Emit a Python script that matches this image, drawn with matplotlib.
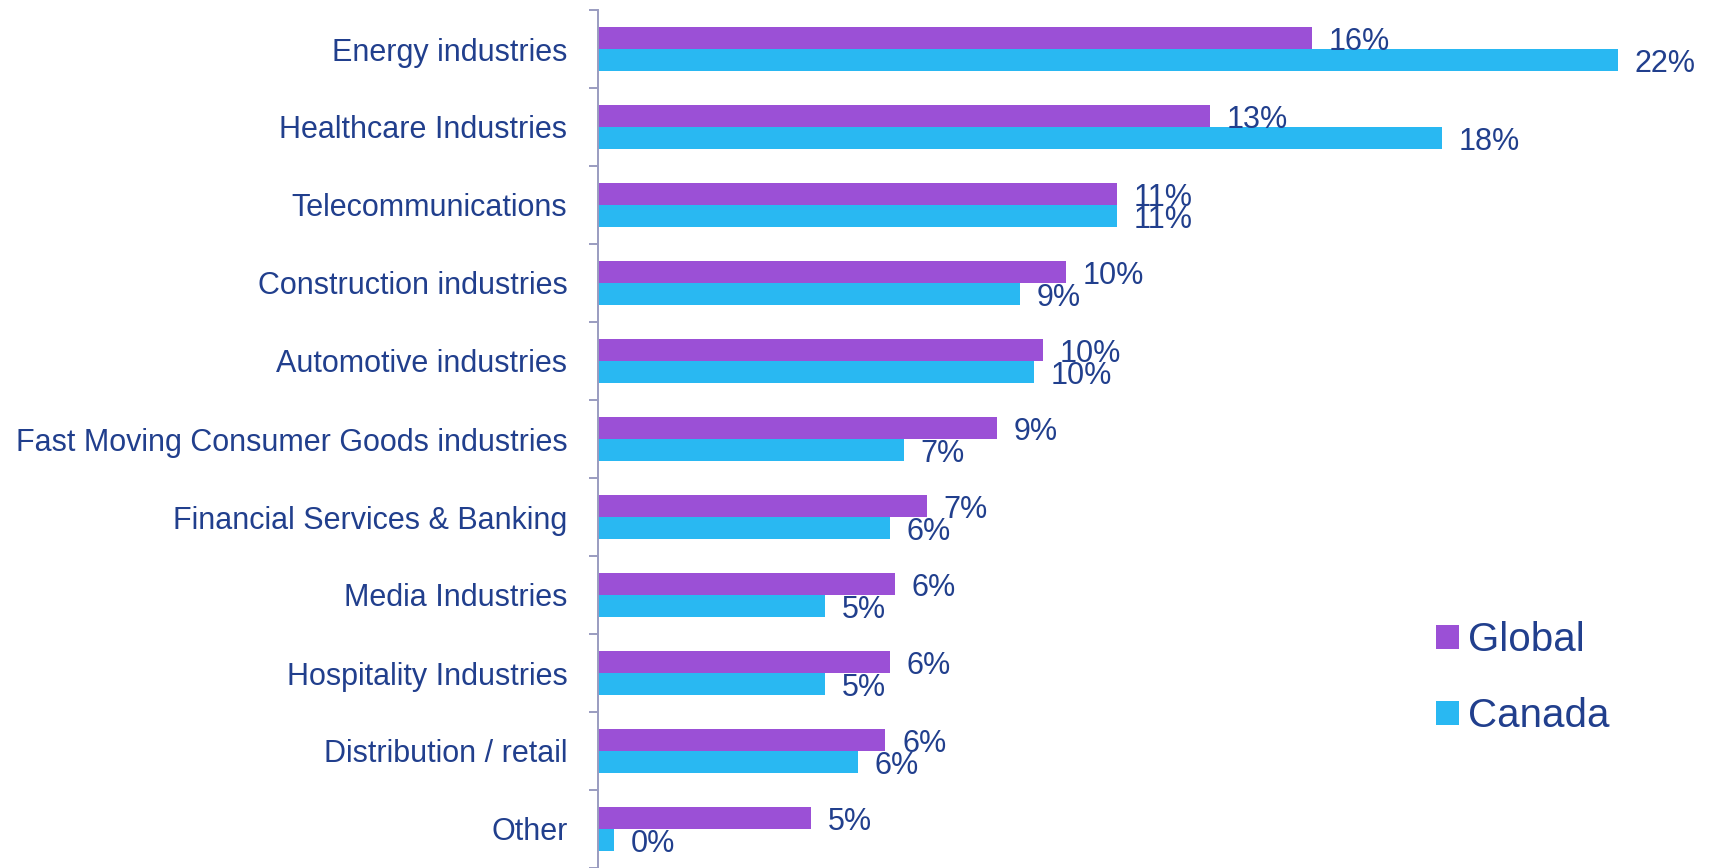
import numpy as np
import matplotlib
matplotlib.use("Agg")
from matplotlib import pyplot as plt

# data
categories = ["Energy industries", "Healthcare Industries", "Telecommunications",
              "Construction industries", "Automotive industries",
              "Fast Moving Consumer Goods industries", "Financial Services & Banking",
              "Media Industries", "Hospitality Industries", "Distribution / retail", "Other"]
global_vals = [15.4, 13.2, 11.2, 10.1, 9.6, 8.6, 7.1, 6.4, 6.3, 6.2, 4.6]
canada_vals = [22.0, 18.2, 11.2, 9.1, 9.4, 6.6, 6.3, 4.9, 4.9, 5.6, 0.35]
global_labels = ["16%", "13%", "11%", "10%", "10%", "9%", "7%", "6%", "6%", "6%", "5%"]
canada_labels = ["22%", "18%", "11%", "9%", "10%", "7%", "6%", "5%", "5%", "6%", "0%"]
series_names = ["Global", "Canada"]

purple = "#9b50d6"
cyan = "#29b8f2"
txt = "#213f8d"
axcol = "#9a9cc0"

plt.rcParams["font.family"] = ["Liberation Sans", "DejaVu Sans"]

fig = plt.figure(figsize=(17.11, 8.68), dpi=100)
ax = fig.add_axes([598/1711, 0.0, 1066/1711, 1 - 10/868])

y = np.arange(len(categories))
h = 0.286
b1 = ax.barh(y - h/2, global_vals, height=h, color=purple, label=series_names[0])
b2 = ax.barh(y + h/2, canada_vals, height=h, color=cyan, label=series_names[1])

# value labels next to each bar
for i in range(len(categories)):
    ax.annotate(global_labels[i], (global_vals[i], y[i] - h/2), xytext=(12, -3),
                textcoords="offset points", va="center", ha="left",
                fontsize=22, color=txt)
    ax.annotate(canada_labels[i], (canada_vals[i], y[i] + h/2), xytext=(12, -3),
                textcoords="offset points", va="center", ha="left",
                fontsize=22, color=txt)

ax.set_xlim(0, 23)
ax.set_ylim(len(categories) - 0.5, -0.5)
ax.set_yticks(y)
ax.set_yticklabels(categories, fontsize=22, color=txt)
ax.set_yticks(np.arange(len(categories) + 1) - 0.5, minor=True)
ax.tick_params(axis="y", which="major", length=0, pad=22)
ax.tick_params(axis="y", which="minor", length=6.5, width=1.4, color=axcol, direction="out")
ax.xaxis.set_visible(False)
for s in ["top", "right", "bottom"]:
    ax.spines[s].set_visible(False)
ax.spines["left"].set_color(axcol)
ax.spines["left"].set_linewidth(1.4)

leg = fig.legend(handles=[b1, b2], loc="upper left", bbox_to_anchor=(1420/1711, 1 - 605/868),
                 frameon=False, fontsize=29, handlelength=0.56, handleheight=0.56,
                 handletextpad=0.22, labelspacing=0.95, borderaxespad=0)
for t in leg.get_texts():
    t.set_color(txt)

fig.savefig("out.png", dpi=100)
